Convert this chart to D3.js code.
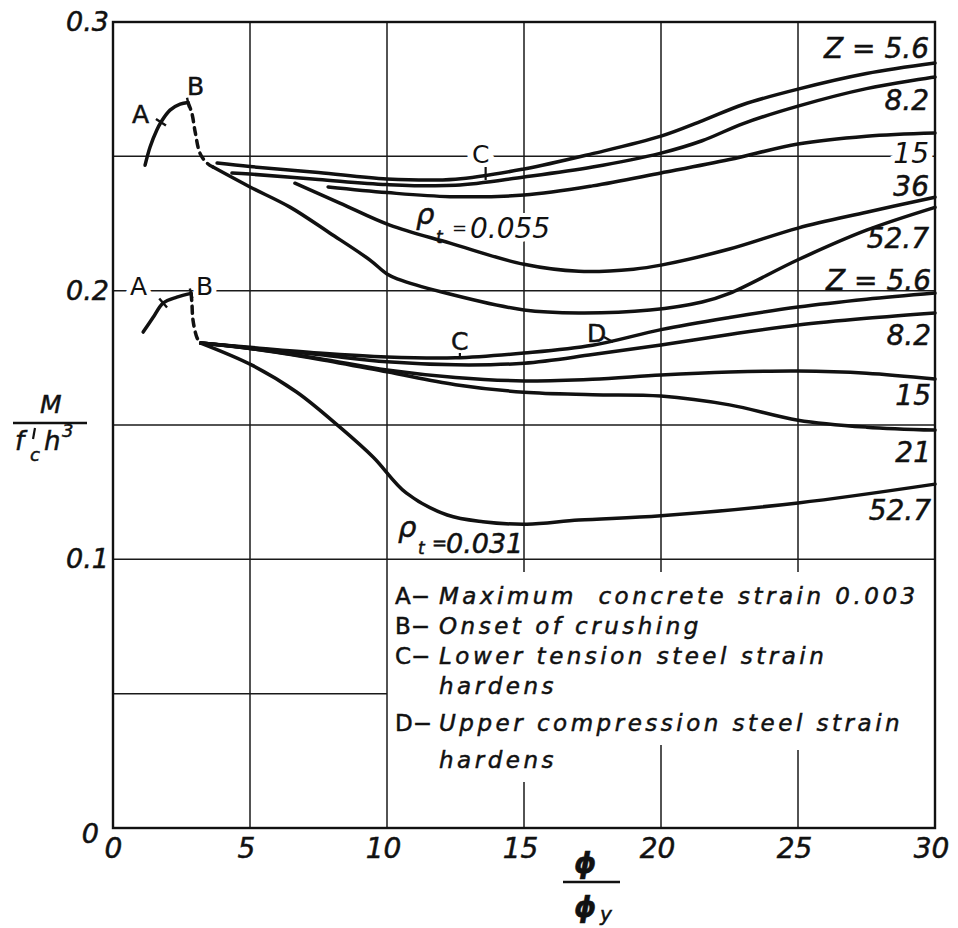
<html>
<script src='https://d3js.org/d3.v7.min.js'></script>
<style>
body { margin: 0; background: #fff; }
text { font-family: 'DejaVu Sans', sans-serif; fill: #111; stroke: #111; stroke-width: 0.5px; }
.it { font-style: italic; }
.grid { stroke: #1a1a1a; stroke-width: 1.5; }
.curve { fill: none; stroke: #111; stroke-width: 3.5; stroke-linecap: round; stroke-linejoin: round; }
.halo { paint-order: stroke; stroke: #fff; stroke-linejoin: round; }
</style>
<body>
<svg width=958 height=928>
</svg>
<script>
var xTicks = [0, 5, 10, 15, 20, 25, 30];
var yTicks = [0, 0.1, 0.2, 0.3];
var yTickLabels = ["0", "0.1", "0.2", "0.3"];

// rho_t = 0.055
var abUpper = [[1.17,0.2467],[1.35,0.2534],[1.6,0.2598],[1.75,0.2627],[2.08,0.2672],[2.45,0.2694],[2.74,0.2700]];
var crushUpper = [[2.74,0.2700],[2.88,0.2660],[3.0,0.2590],[3.18,0.2510],[3.43,0.2475],[3.65,0.2460]];
var z56Upper = [[3.8,0.2475],[5,0.2462],[7.5,0.2440],[10,0.2416],[12.5,0.2415],[15,0.2453],[17.5,0.2510],[20,0.2575],[21.5,0.2632],[23,0.2693],[25,0.2750],[27.5,0.2808],[30,0.2847]];
var z82Upper = [[4.34,0.2438],[5,0.2434],[7.5,0.2414],[10,0.2395],[12.5,0.2392],[15,0.2423],[17.5,0.2460],[20,0.2512],[21.5,0.2558],[23,0.2622],[25,0.2687],[27.5,0.2752],[30,0.2795]];
var z15Upper = [[7.85,0.2386],[10,0.2365],[12.3,0.2350],[15,0.2356],[17.5,0.2390],[20,0.2438],[22.5,0.2488],[25,0.2546],[27.5,0.2575],[30,0.2587]];
var z36Upper = [[6.64,0.2400],[8.28,0.2326],[10.1,0.2244],[12.3,0.2177],[15,0.2098],[17,0.2072],[19,0.2080],[20,0.2095],[22.5,0.2155],[25,0.2233],[27.5,0.2292],[30,0.2348]];
var z527Upper = [[3.65,0.2460],[5.0,0.2386],[6.46,0.2311],[7.92,0.2214],[9.38,0.2114],[10,0.2062],[10.4,0.2043],[12,0.1995],[15,0.1928],[17,0.1917],[19.6,0.1928],[21.5,0.1958],[22.5,0.1990],[25,0.2115],[27.5,0.2225],[30,0.2310]];

// rho_t = 0.031
var abLower = [[1.1,0.1846],[1.46,0.1900],[1.83,0.1954],[2.33,0.1976],[2.85,0.1990]];
var crushLower = [[2.85,0.1990],[2.88,0.1954],[2.92,0.1890],[3.07,0.1824],[3.2,0.1805]];
var z56Lower = [[3.2,0.1805],[5,0.1789],[7.5,0.1768],[10,0.1753],[12.5,0.1750],[15,0.1768],[17.5,0.1797],[20,0.1855],[22.5,0.1900],[25,0.1939],[27.5,0.1968],[30,0.1991]];
var z82Lower = [[3.2,0.1805],[5,0.1787],[7.5,0.1762],[10,0.1735],[12.5,0.1724],[15,0.1730],[17.5,0.1762],[20,0.1798],[22.5,0.1837],[25,0.1872],[27.5,0.1897],[30,0.1917]];
var z15Lower = [[3.2,0.1805],[5,0.1785],[7.5,0.1748],[10,0.1705],[12.5,0.1677],[15,0.1664],[17.5,0.1670],[20,0.1686],[22.5,0.1697],[25,0.1701],[27.5,0.1693],[30,0.1671]];
var z21Lower = [[3.2,0.1805],[5,0.1785],[7.5,0.1745],[10,0.1698],[12.5,0.1650],[15,0.1622],[17.5,0.1613],[20,0.1608],[22.5,0.1575],[25,0.1518],[27.5,0.1492],[30,0.1481]];
var z527Lower = [[3.2,0.1805],[5.07,0.1723],[6.7,0.1623],[8.28,0.1492],[9.5,0.1380],[10.7,0.1247],[12.2,0.1165],[13.5,0.1140],[15.1,0.1131],[17,0.1146],[20,0.1162],[25,0.1210],[30,0.1280]];

var upperZ = ["Z = 5.6", "8.2", "15", "36", "52.7"];
var lowerZ = ["Z = 5.6", "8.2", "15", "21", "52.7"];

var legendKeys = ["A\u2212", "B\u2212", "C\u2212", "", "D\u2212", ""];
var legendTexts = ["Maximum  concrete strain 0.003", "Onset of crushing", "Lower tension steel strain", "hardens", "Upper compression steel strain", "hardens"];

var svg = d3.select("svg");

var x = d3.scaleLinear().domain([0, 30]).range([113, 935]);
var y = d3.scaleLinear().domain([0, 0.3]).range([828, 22]);

// grid (the legend box blanks part of it)
var vGrid = [[5,0,0.3],[10,0,0.3],[15,0.0953,0.3],[15,0,0.0171],[20,0.0953,0.3],[20,0,0.0309],[25,0.0953,0.3],[25,0,0.029]];
var hGrid = [[0.25,0,30],[0.2,0,30],[0.15,0,30],[0.1,0,30],[0.05,0,10]];

svg.append("g").selectAll("line").data(vGrid).enter().append("line")
   .attr("class","grid")
   .attr("x1", function(d){ return x(d[0]); }).attr("x2", function(d){ return x(d[0]); })
   .attr("y1", function(d){ return y(d[1]); }).attr("y2", function(d){ return y(d[2]); });

svg.append("g").selectAll("line").data(hGrid).enter().append("line")
   .attr("class","grid")
   .attr("y1", function(d){ return y(d[0]); }).attr("y2", function(d){ return y(d[0]); })
   .attr("x1", function(d){ return x(d[1]); }).attr("x2", function(d){ return x(d[2]); });

// axes
var xAxis = svg.append("g")
   .attr("transform","translate(0,"+y(0)+")")
   .call(d3.axisBottom(x).tickValues(xTicks).tickSize(0).tickPadding(10));
xAxis.select(".domain").remove();
xAxis.selectAll("text").attr("class","it").attr("dx", function(d){ return d == 0 ? 0 : -4; })
   .style("font-size","28px");

var yAxis = svg.append("g")
   .attr("transform","translate("+x(0)+",0)")
   .call(d3.axisLeft(y).tickValues(yTicks).tickSize(0).tickPadding(4)
      .tickFormat(function(d, i){ return yTickLabels[i]; }));
yAxis.select(".domain").remove();
yAxis.selectAll("text").attr("class","it").style("font-size","27px")
   .attr("dx", function(d){ return d == 0 ? -10 : 0; })
   .attr("dy", function(d){ return d == 0 ? "0.55em" : "0.32em"; });

// labels that break the grid go first, curves on top
function lbl(t, px, py, size, cls, anchor){
  return svg.append("text").attr("x",px).attr("y",py).text(t)
     .attr("class", cls === undefined ? "it" : cls).style("font-size", size+"px")
     .attr("text-anchor", anchor || "start");
}

lbl("A", 132, 123, 25, "");
lbl("B", 187, 95, 25, "");
lbl("A", 130, 295, 25, "halo").style("stroke-width",10);
lbl("B", 196, 295, 25, "halo").style("stroke-width",10);
lbl("C", 472, 163, 25, "halo").style("stroke-width",12);
lbl("C", 451, 350, 25, "");
lbl("D", 587, 342, 25, "");

// curve labels
var upperY = [58, 110, 163, 196, 248];
var lowerY = [290, 345, 405, 462, 520];
svg.append("g").selectAll("text").data(upperZ).enter().append("text")
   .attr("class", function(d, i){ return i == 2 ? "it halo" : "it"; })
   .style("stroke-width", function(d, i){ return i == 2 ? 12 : null; })
   .attr("x", 929).attr("y", function(d, i){ return upperY[i]; })
   .attr("text-anchor","end").style("font-size","28px").text(function(d){ return d; });
svg.append("g").selectAll("text").data(lowerZ).enter().append("text")
   .attr("class","it")
   .attr("x", 931).attr("y", function(d, i){ return lowerY[i]; })
   .attr("text-anchor","end").style("font-size","28px").text(function(d){ return d; });

// rho labels
lbl("\u03c1", 416, 224, 29);
lbl("t", 436, 243, 17);
lbl("=", 452, 234, 18, "it halo").style("stroke-width",8);
lbl("0.055", 470, 238, 28, "it halo").style("stroke-width",8);
lbl("\u03c1", 398, 537, 29);
lbl("t", 418, 554, 17);
lbl("=", 432, 549, 18);
lbl("0.031", 446, 553, 27);

// plot frame (after the haloed labels so it stays whole)
svg.append("rect")
   .attr("x", x(0)).attr("y", y(0.3))
   .attr("width", x(30) - x(0)).attr("height", y(0) - y(0.3))
   .attr("fill","none").attr("stroke","#111").attr("stroke-width",2.4);

// curves
var line = d3.line()
   .x(function(d){ return x(d[0]); })
   .y(function(d){ return y(d[1]); })
   .curve(d3.curveCatmullRom.alpha(0.5));

var solid = [abUpper, z56Upper, z82Upper, z15Upper, z36Upper, z527Upper,
             abLower, z56Lower, z82Lower, z15Lower, z21Lower, z527Lower];
var dashed = [crushUpper, crushLower];

svg.append("g").selectAll("path").data(solid).enter().append("path")
   .attr("class","curve").attr("d", line);
svg.append("g").selectAll("path").data(dashed).enter().append("path")
   .attr("class","curve").attr("stroke-dasharray","7,6").attr("d", line);

// small ticks across the curve at A and B
function crossTick(pts, i, len){
  var a = pts[Math.max(i-1,0)], b = pts[Math.min(i+1,pts.length-1)];
  var dx = x(b[0]) - x(a[0]), dy = y(b[1]) - y(a[1]);
  var n = Math.sqrt(dx*dx + dy*dy);
  var nx = -dy/n*len, ny = dx/n*len;
  var cx = x(pts[i][0]), cy = y(pts[i][1]);
  svg.append("line").attr("x1",cx-nx).attr("y1",cy-ny).attr("x2",cx+nx).attr("y2",cy+ny)
     .attr("stroke","#111").attr("stroke-width",2.4);
}
crossTick(abUpper, 3, 6);
crossTick(abUpper, 6, 5);
crossTick(abLower, 2, 6);
crossTick(abLower, 4, 5);

// C and D pointers
svg.append("line").attr("x1",x(13.6)).attr("x2",x(13.6)).attr("y1",167).attr("y2",y(0.2412))
   .attr("stroke","#111").attr("stroke-width",2.2);
svg.append("line").attr("x1",x(12.66)).attr("x2",x(12.66)).attr("y1",353).attr("y2",y(0.1748))
   .attr("stroke","#111").attr("stroke-width",2.2);
svg.append("line").attr("x1",604).attr("y1",337).attr("x2",x(18.25)).attr("y2",y(0.1809))
   .attr("stroke","#111").attr("stroke-width",2.2);

// legend box text
var legY = [604, 634, 664, 694, 731, 768];
var leg = svg.append("g");
leg.selectAll("text.key").data(legendKeys).enter().append("text")
   .attr("class","key").attr("x", x(10) + 8).attr("y", function(d, i){ return legY[i]; })
   .style("font-size","23px").text(function(d){ return d; });
leg.selectAll("text.desc").data(legendTexts).enter().append("text")
   .attr("class","desc it").attr("x", x(10) + 52).attr("y", function(d, i){ return legY[i]; })
   .style("font-size","23px").style("letter-spacing","3.5px").style("white-space","pre")
   .text(function(d){ return d; });

// y title
lbl("M", 40, 413, 25);
svg.append("line").attr("x1",13).attr("x2",87).attr("y1",423).attr("y2",423)
   .attr("stroke","#111").attr("stroke-width",2.6);
lbl("f", 15, 450, 26);
svg.append("line").attr("x1",35).attr("y1",428).attr("x2",33).attr("y2",439)
   .attr("stroke","#111").attr("stroke-width",2.2);
lbl("c", 30, 461, 18);
lbl("h", 44, 450, 26);
lbl("3", 62, 437, 18);

// x title
lbl("\u03d5", 574, 873, 28).style("font-weight","bold");
svg.append("line").attr("x1",563).attr("x2",620).attr("y1",882).attr("y2",882)
   .attr("stroke","#111").attr("stroke-width",2.6);
lbl("\u03d5", 574, 917, 28).style("font-weight","bold");
lbl("y", 600, 921, 20);

</script>
</body>
</html>
